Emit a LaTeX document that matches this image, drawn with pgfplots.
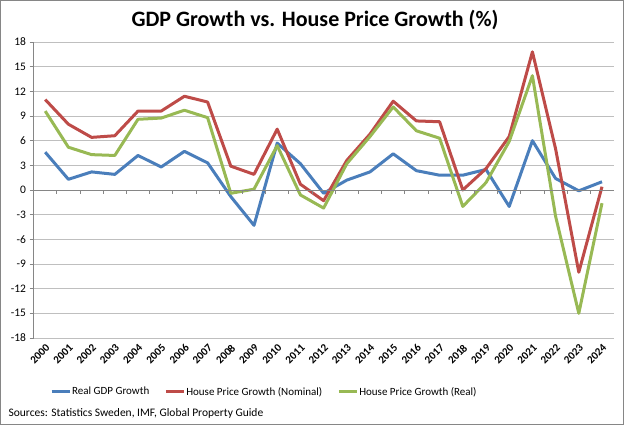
\documentclass[border=0pt]{standalone}
\usepackage{pgfplots}
\pgfplotsset{compat=1.18}
\usepackage{fontspec}
\setmainfont{Carlito}
\definecolor{gdpblue}{HTML}{4A7EBB}
\definecolor{nomred}{HTML}{BE4B48}
\definecolor{realgreen}{HTML}{98B954}
\definecolor{gridgray}{HTML}{BFBFBF}
\definecolor{axisgray}{HTML}{868686}
\begin{document}
\begin{tikzpicture}[x=1pt,y=1pt]
\draw[axisgray,line width=1pt] (0.5,0.5) rectangle (623.5,424.5);
\node[font=\bfseries\fontsize{22}{24}\selectfont] at (315,405) {GDP Growth vs. House Price Growth (\%)};
\begin{axis}[
    at={(33.6pt,87pt)}, anchor=south west,
    scale only axis, width=580pt, height=296pt,
    xmin=-0.5, xmax=24.5, ymin=-18, ymax=18,
    axis x line*=bottom, axis y line*=left,
    x axis line style={draw=none},
    y axis line style={axisgray, line width=0.8pt},
    ytick={-18,-15,...,18},
    yticklabels={-18,-15,-12,-9,-6,-3,0,3,6,9,12,15,18},
    ymajorgrids, grid style={gridgray, line width=0.8pt},
    tick align=outside, major tick length=4pt,
    tick style={axisgray, line width=0.8pt},
    major x tick style={draw=none},
    yticklabel style={font=\fontsize{11.5}{12}\selectfont},
    xtick={0,...,24},
    xticklabels={2000,2001,2002,2003,2004,2005,2006,2007,2008,2009,2010,2011,2012,2013,2014,2015,2016,2017,2018,2019,2020,2021,2022,2023,2024},
    xticklabel style={font=\bfseries\fontsize{11}{12}\selectfont, rotate=45, anchor=north east, inner sep=1pt},
    legend style={at={(0.397,-0.182)}, anchor=center, draw=none, fill=none,
      font=\fontsize{11}{12}\selectfont, legend columns=3,
      nodes={inner xsep=1pt},
      /tikz/column 2/.style={column sep=14pt},
      /tikz/column 4/.style={column sep=14pt}},
    legend image code/.code={\draw[#1, line width=3pt] (0pt,0pt) -- (18pt,0pt);},
    every axis plot/.append style={line width=3pt, line join=round, no markers},
]
\addplot[gdpblue] coordinates {
(0,4.6)(1,1.3)(2,2.2)(3,1.9)(4,4.2)(5,2.8)(6,4.7)(7,3.3)(8,-0.8)(9,-4.3)
(10,5.7)(11,3.2)(12,-0.4)(13,1.2)(14,2.2)(15,4.4)(16,2.35)(17,1.8)(18,1.8)(19,2.5)
(20,-2.0)(21,6.0)(22,1.4)(23,-0.1)(24,1.0)};
\addlegendentry{Real GDP Growth}
\addplot[nomred] coordinates {
(0,11.0)(1,8.0)(2,6.4)(3,6.6)(4,9.6)(5,9.6)(6,11.4)(7,10.7)(8,2.9)(9,1.9)
(10,7.4)(11,0.7)(12,-1.3)(13,3.6)(14,6.8)(15,10.8)(16,8.4)(17,8.3)(18,0.0)(19,2.6)
(20,6.5)(21,16.8)(22,5.0)(23,-10.0)(24,0.4)};
\addlegendentry{House Price Growth (Nominal)}
\addplot[realgreen] coordinates {
(0,9.6)(1,5.2)(2,4.3)(3,4.2)(4,8.6)(5,8.75)(6,9.7)(7,8.8)(8,-0.4)(9,0.1)
(10,5.4)(11,-0.6)(12,-2.2)(13,3.2)(14,6.5)(15,10.1)(16,7.2)(17,6.3)(18,-2.0)(19,0.9)
(20,5.9)(21,13.9)(22,-3.2)(23,-15.0)(24,-1.6)};
\addlegendentry{House Price Growth (Real)}
\end{axis}
\begin{axis}[
    at={(33.6pt,87pt)}, anchor=south west,
    scale only axis, width=580pt, height=296pt,
    xmin=-0.5, xmax=24.5, ymin=-18, ymax=18,
    axis x line*=middle, axis y line=none,
    axis line style={axisgray, line width=0.8pt, -},
    xtick={0.5,1.5,...,23.5}, xticklabels={},
    ytick=\empty,
    tick align=outside, major tick length=4pt,
    tick style={axisgray, line width=0.8pt},
]
\end{axis}
\node[anchor=west, font=\fontsize{11.5}{12}\selectfont] at (5,12) {Sources: Statistics Sweden, IMF, Global Property Guide};
\end{tikzpicture}
\end{document}
